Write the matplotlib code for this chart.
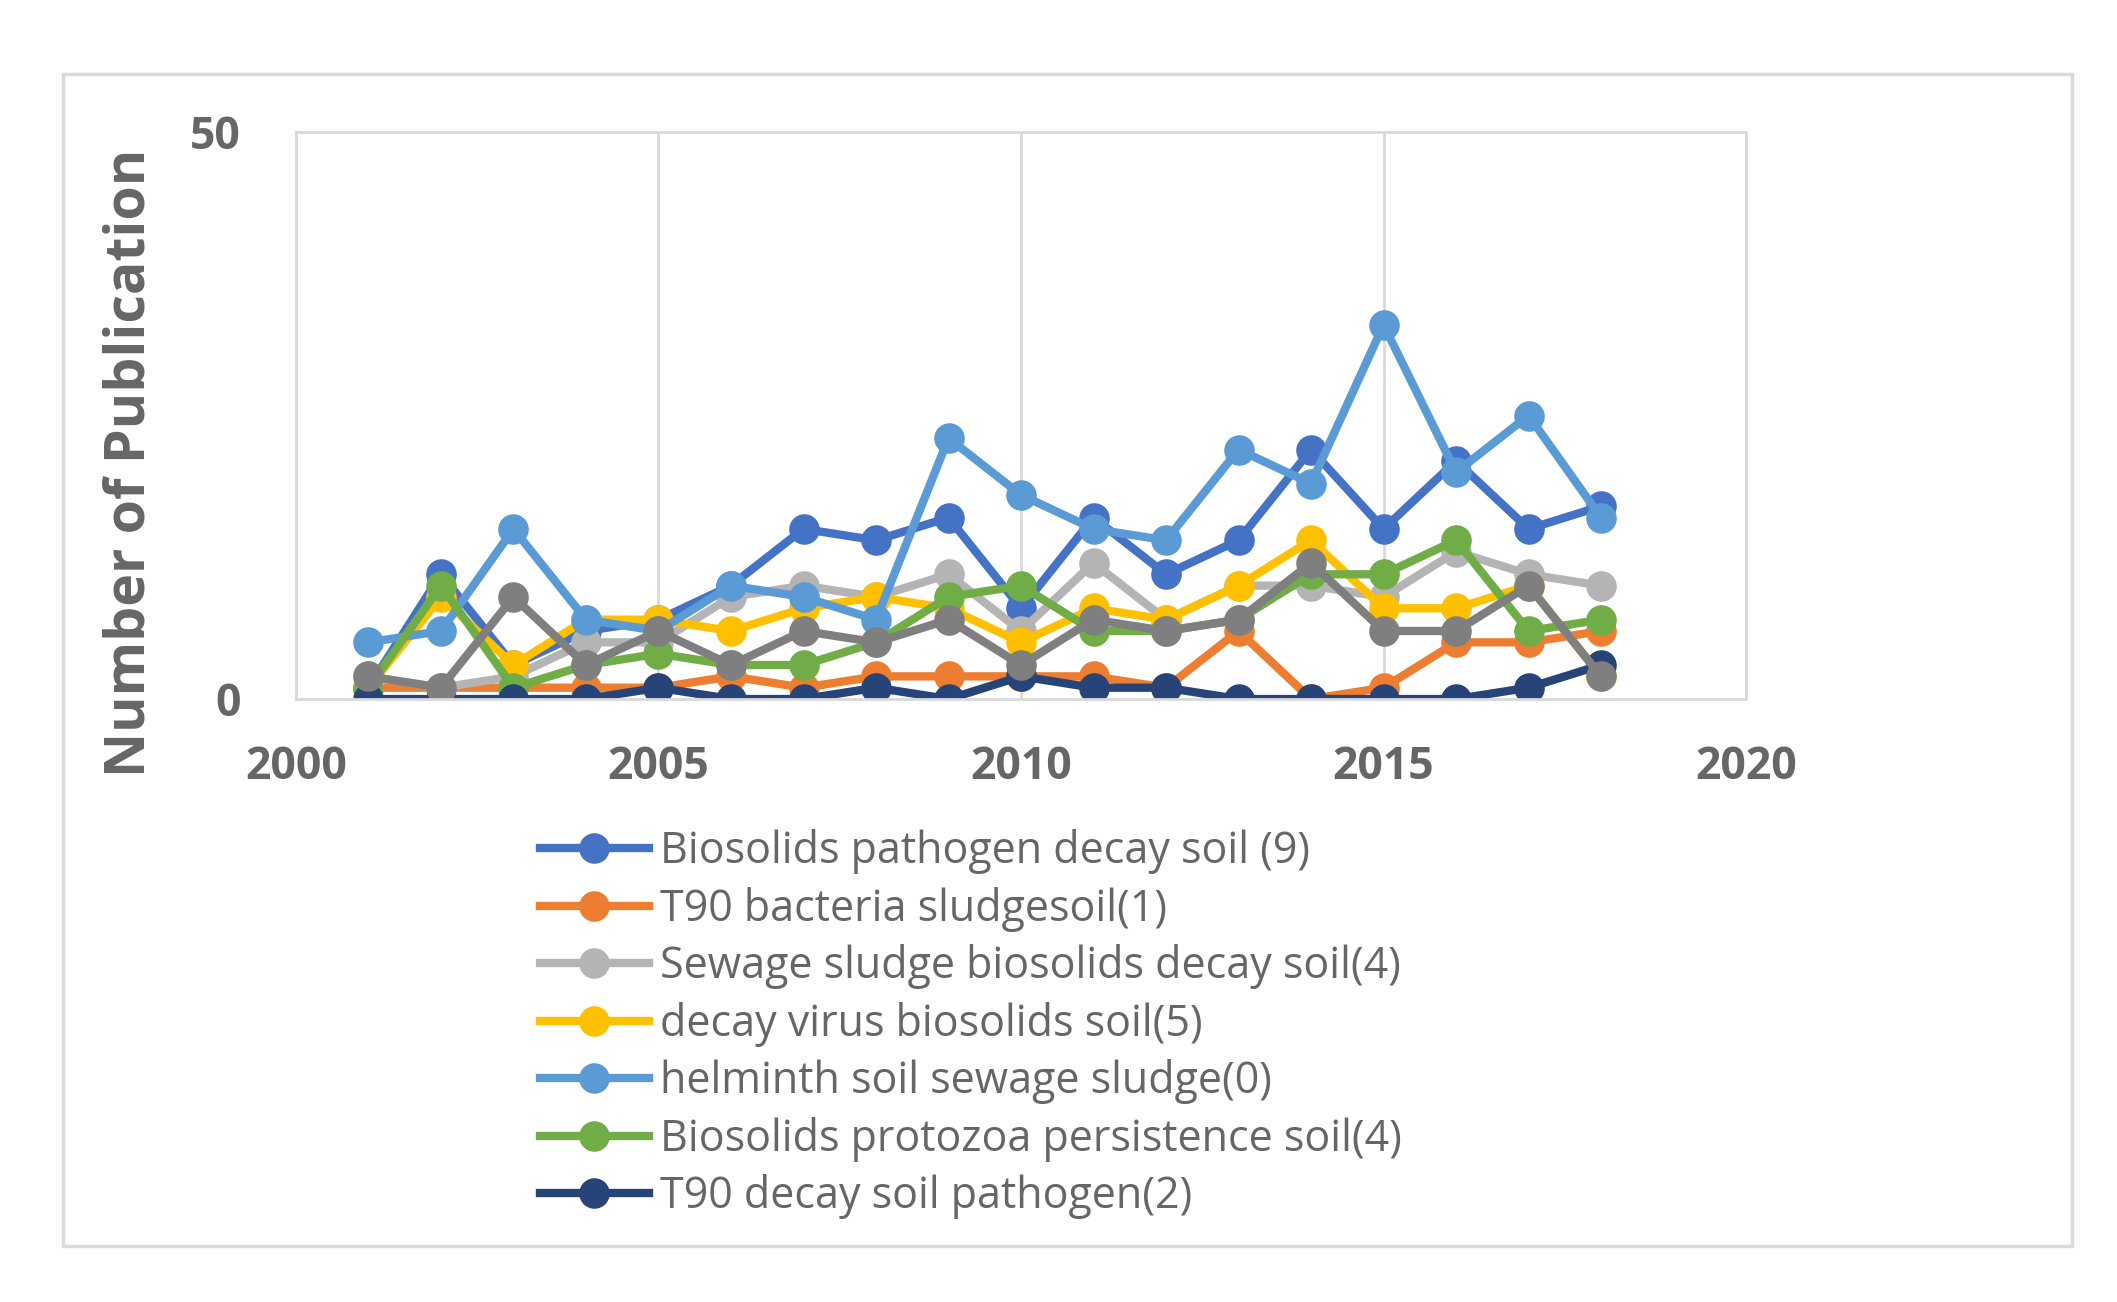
import matplotlib.pyplot as plt
from matplotlib.patches import Rectangle

years = list(range(2001, 2019))

biosolids_pathogen = [1, 11, 3, 6, 7, 10, 15, 14, 16, 8, 16, 11, 14, 22, 15, 21, 15, 17]
t90_bacteria = [1, 1, 1, 1, 1, 2, 1, 2, 2, 2, 2, 1, 6, 0, 1, 5, 5, 6]
sewage_sludge = [2, 1, 2, 5, 5, 9, 10, 9, 11, 6, 12, 7, 10, 10, 9, 13, 11, 10]
decay_virus = [1, 9, 3, 7, 7, 6, 8, 9, 8, 5, 8, 7, 10, 14, 8, 8, 10, 2]
helminth = [5, 6, 15, 7, 6, 10, 9, 7, 23, 18, 15, 14, 22, 19, 33, 20, 25, 16]
protozoa = [1, 10, 1, 3, 4, 3, 3, 5, 9, 10, 6, 6, 7, 11, 11, 14, 6, 7]
t90_decay = [0, 0, 0, 0, 1, 0, 0, 1, 0, 2, 1, 1, 0, 0, 0, 0, 1, 3]
unlabelled = [2, 1, 9, 3, 6, 3, 6, 5, 7, 3, 7, 6, 7, 12, 6, 6, 10, 2]

series = [
    (biosolids_pathogen, 'Biosolids pathogen decay soil (9)', '#4472C4'),
    (t90_bacteria, 'T90 bacteria sludgesoil(1)', '#ED7D31'),
    (sewage_sludge, 'Sewage sludge biosolids decay soil(4)', '#B4B4B4'),
    (decay_virus, 'decay virus biosolids soil(5)', '#FFC000'),
    (helminth, 'helminth soil sewage sludge(0)', '#5B9BD5'),
    (protozoa, 'Biosolids protozoa persistence soil(4)', '#70AD47'),
    (t90_decay, 'T90 decay soil pathogen(2)', '#264478'),
    (unlabelled, '_nolegend_', '#7F7F7F'),
]

fig = plt.figure(figsize=(21.17, 13.02), dpi=100)
ax = fig.add_axes([0.1398, 0.4631, 0.685, 0.4355])

for vals, name, col in series:
    ax.plot(years, vals, '-o', color=col, lw=6, ms=21, label=name)

ax.set_xlim(2000, 2020)
ax.set_ylim(0, 50)
ax.set_xticks([2000, 2005, 2010, 2015, 2020])
ax.set_yticks([0, 50])
ax.grid(axis='x', color='#D9D9D9', lw=2)
ax.set_axisbelow(True)
for s in ax.spines.values():
    s.set_color('#D9D9D9')
    s.set_linewidth(2)
ax.tick_params(length=0, labelcolor='#666666', labelsize=32)
ax.tick_params(axis='y', pad=40)
ax.tick_params(axis='x', pad=33)
for lab in ax.get_xticklabels() + ax.get_yticklabels():
    lab.set_family('Open Sans')
    lab.set_fontweight('bold')

fig.text(130 / 2117, 1 - 463 / 1302, 'Number of Publication', rotation=90,
         ha='center', va='center', fontsize=40, fontweight='bold',
         color='#666666', family='Open Sans')

leg = fig.legend(loc='upper left', bbox_to_anchor=(0.255, 0.363), frameon=False,
                 prop={'family': 'Open Sans', 'size': 31}, labelcolor='#666666',
                 handlelength=2.53, handletextpad=0.27, labelspacing=0.29,
                 borderpad=0, borderaxespad=0)

fig.patches.append(Rectangle((63 / 2117, 1 - 1246 / 1302), (2072 - 63) / 2117,
                             (1246 - 74) / 1302, transform=fig.transFigure,
                             fill=False, edgecolor='#D9D9D9', lw=2.5))

fig.savefig('out.png', dpi=100, facecolor='white')
